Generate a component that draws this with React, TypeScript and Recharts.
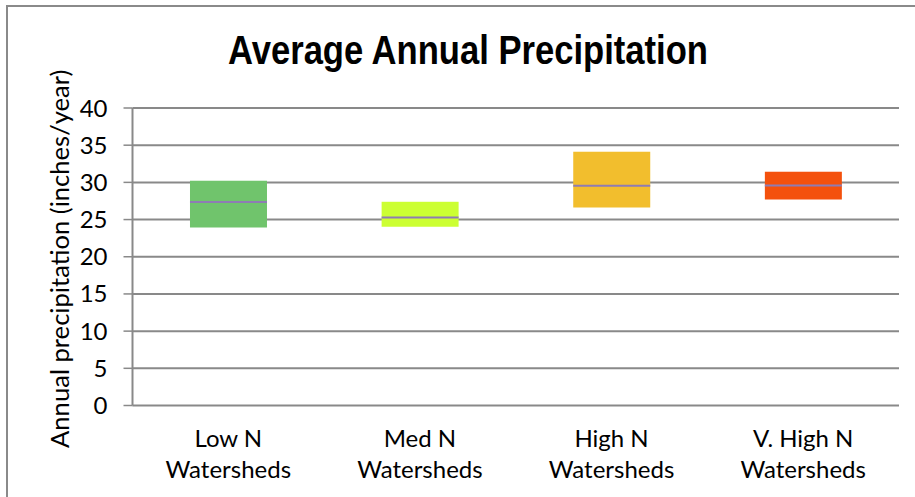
import React from 'react';
import { ComposedChart, Bar, XAxis, YAxis, CartesianGrid, Cell, Label } from 'recharts';

const categories = ['Low N Watersheds', 'Med N Watersheds', 'High N Watersheds', 'V. High N Watersheds'];
const lows = [23.93, 24.02, 26.62, 27.7];
const medians = [27.35, 25.28, 29.54, 29.58];
const highs = [30.22, 27.39, 34.12, 31.43];
const colors = ['#70C46C', '#CCFF33', '#F2BE2D', '#F4510D'];
const yTicks = [0, 5, 10, 15, 20, 25, 30, 35, 40];
const boundaryTicks = [0, 1, 2, 3, 4];

const title = 'Average Annual Precipitation';
const yLabel = 'Annual precipitation (inches/year)';

const data = categories.map((name, i) => ({
  name,
  base: lows[i],
  lower: medians[i] - lows[i],
  upper: highs[i] - medians[i],
}));

const GRID = '#898989';
const MEDIAN = '#8E7CB4';
const FONT = 'Lato, "Open Sans", sans-serif';

const splitLabel = (s: string) => {
  const idx = s.lastIndexOf(' ');
  return [s.slice(0, idx), s.slice(idx + 1)];
};

const CatTick = (props: any) => {
  const { x, y, payload } = props;
  const [l1, l2] = splitLabel(String(payload.value));
  return (
    <text x={x} y={y} textAnchor="middle" fontFamily={FONT} fontSize={24} fill="#000">
      <tspan x={x} dy={41}>{l1}</tspan>
      <tspan x={x} dy={31}>{l2}</tspan>
    </text>
  );
};

const UpperShape = (props: any) => {
  const { x, y, width, height, fill } = props;
  if (width == null) return null;
  return (
    <g>
      <rect x={x} y={y} width={width} height={height} fill={fill} />
      <line x1={x} x2={x + width} y1={y + height} y2={y + height} stroke={MEDIAN} strokeWidth={2} />
    </g>
  );
};

const YLabelContent = (props: any) => {
  const vb = props.viewBox || {};
  const cx = 59;
  const cy = (vb.y ?? 108) + (vb.height ?? 297) / 2 + 2;
  return (
    <text
      x={cx}
      y={cy}
      transform={`rotate(-90, ${cx}, ${cy})`}
      textAnchor="middle"
      dominantBaseline="central"
      fontFamily={FONT}
      fontSize={25.6}
      fill="#000"
    >
      {yLabel}
    </text>
  );
};

export default function App() {
  return (
    <div style={{ position: 'absolute', left: 0, top: 0, width: 915, height: 497, overflow: 'hidden', background: '#fff' }}>
      <div
        style={{
          position: 'absolute',
          left: 6,
          top: 5,
          width: 1000,
          height: 1000,
          border: '2px solid #8a8a8a',
        }}
      />
      <div
        style={{
          position: 'absolute',
          left: 0,
          width: 936,
          top: 25,
          textAlign: 'center',
          fontFamily: '"Liberation Sans", Arial, sans-serif',
          fontWeight: 'bold',
          fontSize: 40,
          lineHeight: '50px',
          color: '#000',
          transform: 'scaleX(0.865)',
          whiteSpace: 'nowrap',
        }}
      >
        {title}
      </div>
      <div style={{ position: 'absolute', left: 0, top: 0 }}>
        <ComposedChart
          width={915}
          height={497}
          data={data}
          margin={{ top: 108, right: 16, bottom: 0, left: 0 }}
          barCategoryGap="30%"
        >
          <CartesianGrid horizontal vertical={false} stroke={GRID} strokeWidth={2} />
          <XAxis
            xAxisId="edges"
            type="number"
            domain={[0, 4]}
            ticks={boundaryTicks}
            allowDataOverflow
            tick={false}
            tickLine={{ stroke: GRID, strokeWidth: 1.5 }}
            tickSize={8}
            axisLine={{ stroke: GRID, strokeWidth: 2 }}
            height={0}
          />
          <XAxis
            xAxisId="cat"
            dataKey="name"
            axisLine={false}
            tickLine={false}
            tickSize={0}
            tickMargin={0}
            interval={0}
            tick={<CatTick />}
            height={91.5}
          />
          <YAxis
            domain={[0, 40]}
            ticks={yTicks}
            width={132.5}
            tickSize={9}
            tickMargin={16}
            tickLine={{ stroke: GRID, strokeWidth: 1.5 }}
            axisLine={{ stroke: GRID, strokeWidth: 2 }}
            tick={{ fontFamily: FONT, fontSize: 24, fill: '#000' }}
            interval={0}
          >
            <Label content={<YLabelContent />} />
          </YAxis>
          <Bar xAxisId="cat" dataKey="base" stackId="box" fill="transparent" isAnimationActive={false} />
          <Bar xAxisId="cat" dataKey="lower" stackId="box" isAnimationActive={false}>
            {data.map((_, i) => (
              <Cell key={i} fill={colors[i]} />
            ))}
          </Bar>
          <Bar xAxisId="cat" dataKey="upper" stackId="box" shape={<UpperShape />} isAnimationActive={false}>
            {data.map((_, i) => (
              <Cell key={i} fill={colors[i]} />
            ))}
          </Bar>
        </ComposedChart>
      </div>
    </div>
  );
}
